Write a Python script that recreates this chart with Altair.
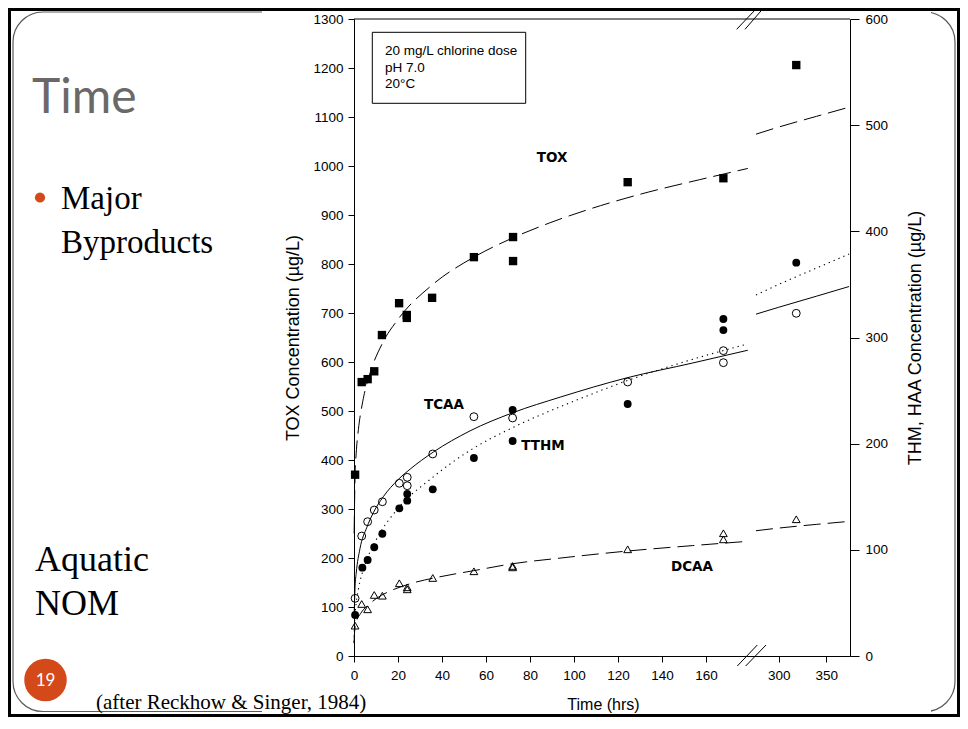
import altair as alt
import pandas as pd

# ---------------- data ----------------
# TOX (left axis, ug/L) - filled squares
tox_t = [0.5, 3.5, 6.2, 9.2, 12.7, 20.5, 24, 24, 35.5, 54.5, 72.3, 72.3, 124.4, 167.9, 318.4]
tox_v = [370, 559, 565, 581, 655, 720, 696, 690, 731, 814, 855, 806, 967, 975, 1206]

# TTHM (right axis) - filled circles
tthm_t = [0.5, 3.8, 6.2, 9.2, 12.9, 20.6, 24.2, 24.2, 35.8, 54.5, 72.1, 72.1, 124.4, 167.9, 167.9, 318.4]
tthm_v = [38.6, 83.2, 90.4, 102.4, 115.2, 139.1, 152.6, 146.3, 157, 186.5, 231.7, 202.5, 237.4, 317.4, 307, 370.5]

# TCAA (right axis) - open circles
tcaa_t = [0.5, 3.5, 6.2, 9.2, 12.9, 20.6, 24.2, 24.2, 35.8, 54.5, 72.1, 124.4, 167.9, 167.9, 318.4]
tcaa_v = [54.3, 113, 126.5, 137.5, 145.3, 162.7, 168.3, 160.4, 190.3, 225.4, 224.2, 258.1, 287.6, 276.3, 322.8]

# DCAA (right axis) - open triangles
dcaa_t = [0.5, 3.5, 6.2, 9.2, 12.9, 20.6, 24.2, 24.2, 35.8, 54.5, 72.1, 72.1, 124.4, 167.9, 167.9, 318.4]
dcaa_v = [28.6, 49, 44, 57.5, 56.8, 68.5, 64.7, 62.8, 73.5, 79.8, 84.8, 83.5, 100.5, 115.6, 109.9, 128.8]

# fitted curves (left segment / right segment)
tox_fit_tl = [0.05, 0.5, 1, 2, 4, 7, 13, 20, 36, 54.5, 72, 89, 112, 134, 157, 179]
tox_fit_vl = [250, 370, 414, 462, 520, 573, 639, 687, 759, 814, 853, 884, 919, 947, 972, 995]
tox_fit_tr = [276, 300, 340, 374]
tox_fit_vr = [1065, 1079.5, 1101.5, 1120]

tcaa_fit_tl = [0.05, 0.5, 1, 2.7, 5.8, 8.8, 13.3, 20, 25.5, 36, 52.7, 72, 94, 124, 154, 179]
tcaa_fit_vl = [37, 66, 78, 101, 121, 135, 150, 166, 176, 192, 212, 229, 244, 262, 276, 288]
tcaa_fit_tr = [276, 300, 340, 374]
tcaa_fit_vr = [322, 328.5, 339, 348]

tthm_fit_tl = [0.02, 0.2, 1, 2, 5, 10, 20, 35, 53, 72, 100, 125, 150, 179]
tthm_fit_vl = [13, 29, 50, 63, 86, 109, 139, 167, 194, 215, 240, 260, 277, 294]
tthm_fit_tr = [276, 300, 340, 374]
tthm_fit_vr = [340, 350, 365.5, 378.6]

dcaa_fit_tl = [0.02, 0.3, 1, 3, 6.5, 10.3, 16.4, 25, 39, 54.2, 72.4, 93.6, 124, 154, 179]
dcaa_fit_vl = [12, 23.5, 31.5, 40, 48, 54.4, 61.2, 67.7, 74.6, 80.3, 87, 92.2, 98.8, 104, 108]
dcaa_fit_tr = [276, 300, 340, 374]
dcaa_fit_vr = [118, 120.5, 124, 126.8]

# series labels (time, value)
tox_label = {"t": [90], "v": [1016], "txt": ["TOX"]}
thm_labels = {"t": [40.9, 85.9, 153.6], "v": [236.4, 197.8, 83.8], "txt": ["TCAA", "TTHM", "DCAA"]}

x_ticks_left = [0, 20, 40, 60, 80, 100, 120, 140, 160]
x_ticks_right = [300, 350]
tox_ticks = list(range(0, 1301, 100))
thm_ticks = list(range(0, 601, 100))

# ---------------- helpers ----------------
FONT = "Liberation Sans"
W, H = 496, 637

XSCALE = alt.Scale(domain=[0, 180, 276, 375], range=[0, 396, 402, 496], nice=False, zero=False)
XAX = alt.Axis(values=x_ticks_left + x_ticks_right, title="Time (hrs)", grid=False, format="d",
               tickSize=6, labelPadding=6, domainColor="black", tickColor="black",
               labelColor="black", labelFont=FONT, labelFontSize=13.5, labelFlush=False,
               titleFont=FONT, titleFontSize=16, titleFontWeight="normal", titleColor="black",
               titleX=249, titleY=53, titleBaseline="alphabetic", titleAlign="center", zindex=1)
TOX_AX = alt.Axis(values=tox_ticks, orient="left", grid=False, format="d",
                  title="TOX Concentration (µg/L)", tickSize=6, labelPadding=5,
                  domainColor="black", tickColor="black", labelColor="black",
                  labelFont=FONT, labelFontSize=13.5, titleFont=FONT, titleFontSize=18,
                  titleFontWeight="normal", titleColor="black", titleAngle=270,
                  titleX=-61, titleY=318.5, titleAlign="center", titleBaseline="middle", zindex=1)
THM_AX = alt.Axis(values=thm_ticks, orient="right", grid=False, format="d",
                  title="THM, HAA Concentration (µg/L)", tickSize=9, labelPadding=6,
                  domainColor="black", tickColor="black", labelColor="black",
                  labelFont=FONT, labelFontSize=13.5, titleFont=FONT, titleFontSize=18,
                  titleFontWeight="normal", titleColor="black", titleAngle=270,
                  titleX=65, titleY=318.5, titleAlign="center", titleBaseline="middle", zindex=1)


def X():
    return alt.X("t:Q", scale=XSCALE, axis=XAX)


def YT():
    return alt.Y("v:Q", scale=alt.Scale(domain=[0, 1300], nice=False, zero=False), axis=TOX_AX)


def YH():
    return alt.Y("v:Q", scale=alt.Scale(domain=[0, 600], nice=False, zero=False), axis=THM_AX)


def curve(tl, vl, tr, vr):
    return pd.DataFrame({"t": tl + tr, "v": vl + vr,
                         "seg": ["L"] * len(tl) + ["R"] * len(tr)})


def pts(t, v):
    return pd.DataFrame({"t": t, "v": v})


one = pd.DataFrame({"k": [0]})


def deco_text(txt, x, y, **kw):
    align = kw.pop("align", "left")
    baseline = kw.pop("baseline", "alphabetic")
    return alt.Chart(one).mark_text(text=txt, align=align, baseline=baseline, **kw).encode(
        x=alt.value(x), y=alt.value(y))


def seg(x1, y1, x2, y2, w=1.0):
    return alt.Chart(one).mark_rule(color="black", strokeWidth=w).encode(
        x=alt.value(x1), y=alt.value(y1), x2=alt.value(x2), y2=alt.value(y2))


# ---------------- slide decoration ----------------
inner = alt.Chart(one).mark_rect(fillOpacity=0, stroke="#5a5a5a", strokeWidth=1.2, cornerRadius=30).encode(
    x=alt.value(-341), x2=alt.value(601), y=alt.value(-7), y2=alt.value(692.5))
white = alt.Chart(one).mark_rect(fill="white", strokeWidth=0).encode(
    x=alt.value(-92), x2=alt.value(577), y=alt.value(-8), y2=alt.value(695))
outer = alt.Chart(one).mark_rect(fillOpacity=0, stroke="black", strokeWidth=3).encode(
    x=alt.value(-344.5), x2=alt.value(604.5), y=alt.value(-9.5), y2=alt.value(696.5))

ORANGE = "#d4491a"
slide_title = deco_text("Time", -322, 94, font="Lato", fontSize=48, fontWeight="normal", color="#6b6868")
bullet = alt.Chart(one).mark_circle(color=ORANGE, opacity=1, size=105).encode(
    x=alt.value(-314), y=alt.value(178.5))
major = deco_text("Major", -293, 190.3, font="Liberation Serif", fontSize=33, color="black")
byprod = deco_text("Byproducts", -293, 234.3, font="Liberation Serif", fontSize=33, color="black")
aquatic = deco_text("Aquatic", -319, 551.7, font="Liberation Serif", fontSize=36, color="black")
nom = deco_text("NOM", -319, 596, font="Liberation Serif", fontSize=36, color="black")
pg_circle = alt.Chart(one).mark_circle(color=ORANGE, opacity=1, size=1810).encode(
    x=alt.value(-308.5), y=alt.value(661))
pg_num = deco_text("19", -308.5, 662, align="center", baseline="middle", font="Lato",
                   fontSize=17, color="white")
cite = deco_text("(after Reckhow & Singer, 1984)", -258, 690, font="Liberation Serif",
                 fontSize=21, color="black")

# plot frame top and legend box
top_rule = seg(0, 0, W, 0)
box = alt.Chart(one).mark_rect(fill="white", stroke="black", strokeWidth=1).encode(
    x=alt.value(18.3), x2=alt.value(171.7), y=alt.value(13.3), y2=alt.value(84.3))
box_t1 = deco_text("20 mg/L chlorine dose", 31, 36, font=FONT, fontSize=13.5, color="black")
box_t2 = deco_text("pH 7.0", 31, 52.5, font=FONT, fontSize=13.5, color="black")
box_t3 = deco_text("20°C", 31, 69, font=FONT, fontSize=13.5, color="black")

# axis break marks
brk = [seg(382.7, 10.3, 401, -9), seg(391, 10.3, 409.3, -10.7),
       seg(383.3, 647, 403.3, 626), seg(391.7, 647, 412, 626)]

# ---------------- data layers ----------------
LBL = dict(font="DejaVu Sans", fontWeight="bold", fontSize=13.5, color="black")

tox_layer = alt.layer(
    alt.Chart(curve(tox_fit_tl, tox_fit_vl, tox_fit_tr, tox_fit_vr)).mark_line(
        color="black", strokeWidth=1, strokeDash=[18, 7], interpolate="monotone").encode(
        x=X(), y=YT(), detail="seg:N"),
    alt.Chart(pts(tox_t, tox_v)).mark_point(shape="square", filled=True, size=70, color="black",
                                            opacity=1).encode(x=X(), y=YT()),
    alt.Chart(pd.DataFrame(tox_label)).mark_text(**LBL).encode(x=X(), y=YT(), text="txt:N"),
)

thm_layer = alt.layer(
    alt.Chart(curve(tcaa_fit_tl, tcaa_fit_vl, tcaa_fit_tr, tcaa_fit_vr)).mark_line(
        color="black", strokeWidth=1, interpolate="monotone").encode(
        x=X(), y=YH(), detail="seg:N"),
    alt.Chart(curve(tthm_fit_tl, tthm_fit_vl, tthm_fit_tr, tthm_fit_vr)).mark_line(
        color="black", strokeWidth=1.1, strokeDash=[1.3, 4], interpolate="monotone").encode(
        x=X(), y=YH(), detail="seg:N"),
    alt.Chart(curve(dcaa_fit_tl, dcaa_fit_vl, dcaa_fit_tr, dcaa_fit_vr)).mark_line(
        color="black", strokeWidth=1, strokeDash=[17, 7], interpolate="monotone").encode(
        x=X(), y=YH(), detail="seg:N"),
    alt.Chart(pts(tthm_t, tthm_v)).mark_point(shape="circle", filled=True, size=62, color="black",
                                              opacity=1).encode(x=X(), y=YH()),
    alt.Chart(pts(tcaa_t, tcaa_v)).mark_point(shape="circle", filled=False, size=62, color="black",
                                              strokeWidth=1, opacity=1).encode(x=X(), y=YH()),
    alt.Chart(pts(dcaa_t, dcaa_v)).mark_point(shape="triangle-up", filled=False, size=60,
                                              color="black", strokeWidth=1, opacity=1).encode(
        x=X(), y=YH()),
    alt.Chart(pd.DataFrame(thm_labels)).mark_text(**LBL).encode(x=X(), y=YH(), text="txt:N"),
)

chart = alt.layer(
    inner, white, outer,
    slide_title, bullet, major, byprod, aquatic, nom, pg_circle, pg_num,
    top_rule, box, box_t1, box_t2, box_t3,
    tox_layer, thm_layer,
    *brk, cite,
).resolve_scale(y="independent").properties(
    width=W, height=H,
    autosize=alt.AutoSizeParams(type="none"),
    padding={"left": 346, "top": 11, "right": 110, "bottom": 61},
).configure_view(stroke="transparent").configure(background="white")

chart.save("out.html", embed_options={"renderer": "svg", "actions": False})
